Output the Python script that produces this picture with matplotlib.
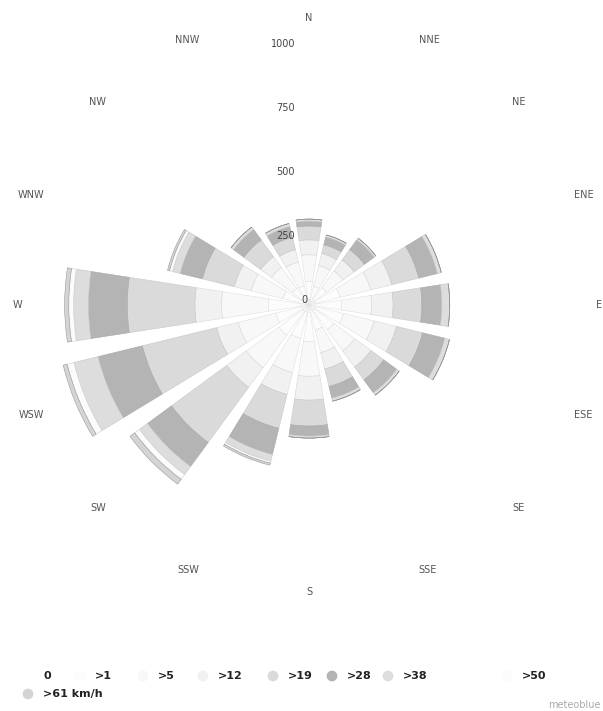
import numpy as np
import matplotlib
matplotlib.use("Agg")
import matplotlib.pyplot as plt
from matplotlib import transforms

# Wind rose: hours per direction, stacked by wind speed class
directions = ["N", "NNE", "NE", "ENE", "E", "ESE", "SE", "SSE",
              "S", "SSW", "SW", "WSW", "W", "WNW", "NW", "NNW"]
speed_classes = ["0", ">1", ">5", ">12", ">19", ">28", ">38", ">50", ">61 km/h"]

calm   = [20, 15, 18, 25, 25, 28, 25, 20, 30, 28, 30, 28, 32, 22, 17, 16]
s_gt1  = [72, 60, 66, 100, 102, 110, 95, 80, 112, 106, 116, 105, 126, 82, 63, 60]
s_gt5  = [104, 83, 81, 122, 117, 123, 102, 91, 136, 137, 157, 151, 183, 128, 102, 96]
s_gt12 = [58, 49, 53, 85, 84, 90, 78, 66, 93, 88, 95, 87, 104, 68, 52, 50]
s_gt19 = [54, 35, 50, 109, 112, 105, 62, 70, 101, 136, 267, 298, 264, 128, 81, 50]
s_gt28 = [19, 31, 47, 74, 78, 89, 62, 47, 39, 105, 116, 178, 151, 89, 50, 43]
s_gt38 = [8, 8, 8, 16, 31, 19, 12, 12, 8, 27, 39, 97, 58, 31, 12, 12]
s_gt50 = [0, 0, 0, 0, 0, 0, 0, 0, 0, 8, 23, 27, 19, 12, 0, 0]
s_gt61 = [0, 0, 0, 0, 0, 0, 0, 0, 0, 8, 23, 16, 16, 8, 0, 0]

series = [calm, s_gt1, s_gt5, s_gt12, s_gt19, s_gt28, s_gt38, s_gt50, s_gt61]
colors = ["#ffffff", "#fcfcfc", "#f8f8f8", "#f1f1f1", "#dadada",
          "#b4b4b4", "#dddddd", "#fbfbfb", "#d4d4d4"]
edges = ["#e4e4e4", "#e4e4e4", "#e0e0e0", "#d8d8d8", "#c8c8c8",
         "#a8a8a8", "#c4c4c4", "#d0d0d0", "#9a9a9a"]

ring_values = [0, 250, 500, 750, 1000]

W_PX, H_PX, DPI = 603, 711, 100
fig = plt.figure(figsize=(W_PX / DPI, H_PX / DPI), dpi=DPI)
fig.patch.set_facecolor("white")

# polar panel centred on the rose
cx, cy, rad = 309, 305, 280
ax = fig.add_axes([(cx - rad) / W_PX, (H_PX - cy - rad) / H_PX,
                   2 * rad / W_PX, 2 * rad / H_PX], projection="polar")
rmax = 1092
ax.set_theta_zero_location("N")
ax.set_theta_direction(-1)
ax.set_ylim(0, rmax)
ax.grid(False)
ax.set_xticks([])
ax.set_yticks([])
ax.spines["polar"].set_visible(False)
ax.patch.set_alpha(0)

theta = np.deg2rad(np.arange(16) * 22.5)
width = np.deg2rad(17.5)
bottom = np.zeros(16)
for vals, col, ec in zip(series, colors, edges):
    v = np.array(vals, dtype=float)
    ax.bar(theta, v, width=width, bottom=bottom, color=col,
           edgecolor=ec, linewidth=0.4, zorder=2)
    bottom += v

# compass labels: left-aligned on the east side, right-aligned on the west
label_r = 1119
for k, (ang, name) in enumerate(zip(theta, directions)):
    if k in (0, 8):
        ha = "center"
    elif k < 8:
        ha = "left"
    else:
        ha = "right"
    ax.text(ang, label_r, name, ha=ha, va="center", fontsize=7,
            color="#555555", zorder=5, clip_on=False)

# radial scale labels beside the north axis
lab_tr = transforms.offset_copy(ax.transData, fig=fig, x=-14, y=5, units="dots")
zero_tr = transforms.offset_copy(ax.transData, fig=fig, x=-5, y=5, units="dots")
for v in ring_values:
    ax.text(0, v, str(v), transform=lab_tr if v else zero_tr,
            ha="right" if v else "center", va="center", fontsize=7,
            color="#444444", zorder=6)

# legend row along the bottom
leg = fig.add_axes([0, 0, 1, 1])
leg.set_xlim(0, W_PX)
leg.set_ylim(H_PX, 0)
leg.axis("off")
leg_x = [43, 95, 158, 218, 288, 347, 403, 522, 43]
leg_y = [676, 676, 676, 676, 676, 676, 676, 676, 694]
for name, col, x, y in zip(speed_classes, colors, leg_x, leg_y):
    leg.scatter([x - 15], [y], s=60, color=col, edgecolor="none", zorder=3)
    leg.text(x, y, name, ha="left", va="center", fontsize=8,
             fontweight="bold", color="#222222")

leg.text(601, 705, "meteoblue", ha="right", va="center", fontsize=7,
         color="#aaaaaa")

fig.savefig("out.png", dpi=DPI, facecolor="white")
